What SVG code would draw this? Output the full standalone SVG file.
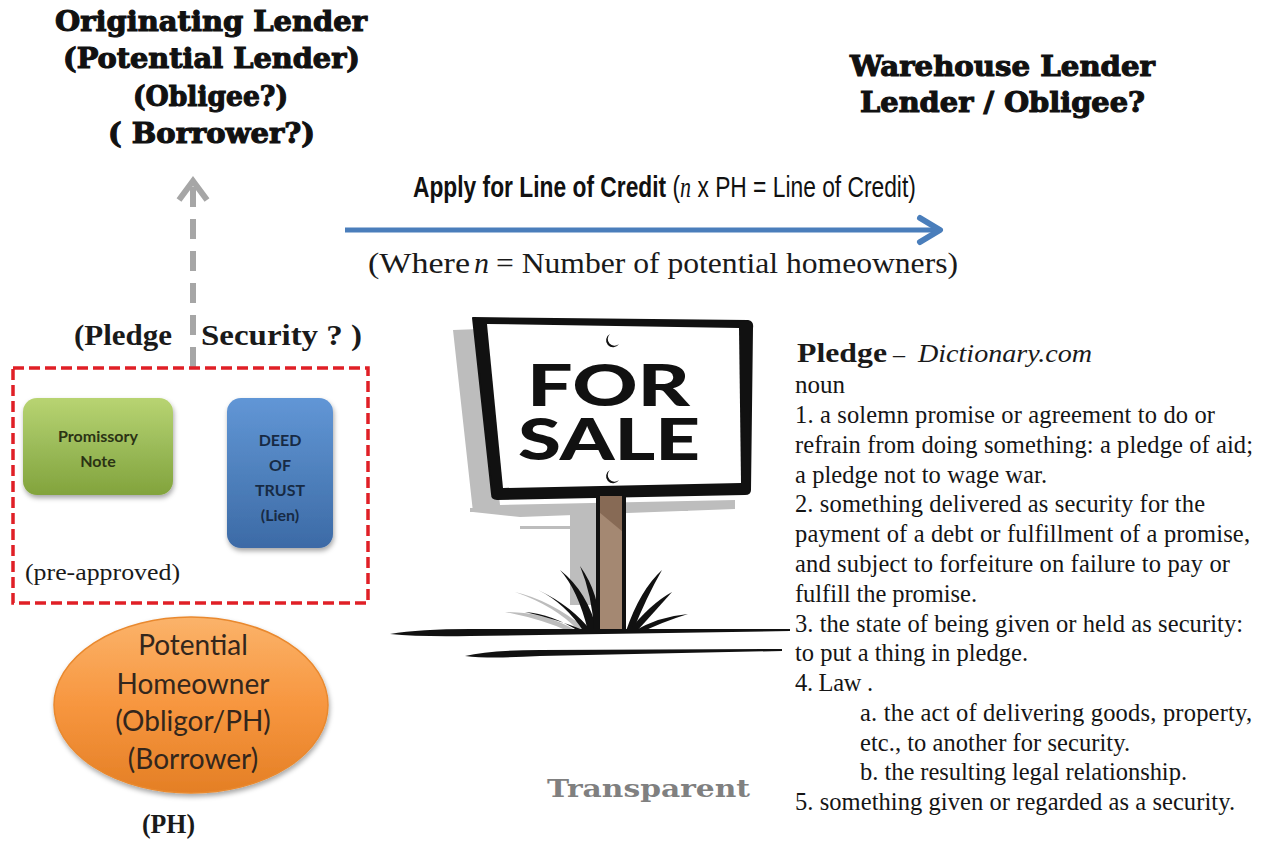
<svg xmlns="http://www.w3.org/2000/svg" width="1266" height="841" viewBox="0 0 1266 841">
  <style>
    .stencil { font-family: "DejaVu Serif", "Liberation Serif", serif; font-weight: bold; font-size: 27px; fill: #111; stroke: #111; stroke-width: 1.1; }
    .times { font-family: "Liberation Serif", "Times New Roman", serif; fill: #1a1a1a; }
    .def { font-family: "Liberation Serif", "Times New Roman", serif; font-size: 24.5px; fill: #151515; }
    .narrow { font-family: "Liberation Sans", Arial, sans-serif; fill: #111; }
    .box { font-family: Lato, "Open Sans", sans-serif; font-weight: bold; font-size: 16px; text-anchor: middle; }
    .oval { font-family: Lato, "Open Sans", sans-serif; font-size: 28px; fill: #33261c; text-anchor: middle; }
    .sign { font-family: Lato, "Open Sans", sans-serif; font-weight: 900; font-size: 57px; fill: #111; }
  </style>
  <defs>
    <linearGradient id="gGreen" x1="0" y1="0" x2="0" y2="1">
      <stop offset="0" stop-color="#b8d472"/>
      <stop offset="0.5" stop-color="#9bbb59"/>
      <stop offset="1" stop-color="#82a33c"/>
    </linearGradient>
    <linearGradient id="gBlue" x1="0" y1="0" x2="0" y2="1">
      <stop offset="0" stop-color="#6196d6"/>
      <stop offset="0.5" stop-color="#4f81bd"/>
      <stop offset="1" stop-color="#3c6aa6"/>
    </linearGradient>
    <linearGradient id="gOrange" x1="0" y1="0" x2="0" y2="1">
      <stop offset="0" stop-color="#fbb36a"/>
      <stop offset="0.5" stop-color="#f7963f"/>
      <stop offset="1" stop-color="#e47f25"/>
    </linearGradient>
    <filter id="soft" x="-20%" y="-20%" width="140%" height="140%">
      <feDropShadow dx="1" dy="3" stdDeviation="2.5" flood-color="#000" flood-opacity="0.35"/>
    </filter>
  </defs>

  <!-- headings -->
  <g id="originating-lender">
    <text class="stencil" x="55" y="31" textLength="312" lengthAdjust="spacingAndGlyphs">Originating Lender</text>
    <text class="stencil" x="63" y="68" textLength="297" lengthAdjust="spacingAndGlyphs">(Potential Lender)</text>
    <text class="stencil" x="133" y="106" textLength="155" lengthAdjust="spacingAndGlyphs">(Obligee?)</text>
    <text class="stencil" x="108" y="143" textLength="207" lengthAdjust="spacingAndGlyphs">( Borrower?)</text>
  </g>
  <g id="warehouse-lender">
    <text class="stencil" x="850" y="76" textLength="305" lengthAdjust="spacingAndGlyphs">Warehouse Lender</text>
    <text class="stencil" x="860" y="112" textLength="285" lengthAdjust="spacingAndGlyphs">Lender / Obligee?</text>
  </g>

  <!-- connectors -->
  <g id="connectors" fill="none" stroke-linecap="butt">
    <!-- pledge arrow up to the originating lender -->
    <line x1="193" y1="367" x2="193" y2="184" stroke="#a6a6a6" stroke-width="6" stroke-dasharray="20 12"/>
    <polyline points="179,200 193,181 207,200" stroke="#a6a6a6" stroke-width="6" stroke-linejoin="miter"/>
    <!-- line of credit application -->
    <line x1="345" y1="230" x2="938" y2="230" stroke="#4a7ebb" stroke-width="5"/>
    <polyline points="920,218 940,230 920,242" stroke="#4a7ebb" stroke-width="6" stroke-linejoin="round" stroke-linecap="round"/>
  </g>

  <!-- line of credit labels -->
  <g id="credit-label">
    <text class="narrow" font-size="30" transform="translate(413,197) scale(0.76,1)"><tspan font-weight="bold">Apply for Line of Credit</tspan> (<tspan font-family="'Liberation Serif', serif" font-style="italic" font-size="29">n</tspan> x PH = Line of Credit)</text>
    <text class="times" x="368" y="273" font-size="30" textLength="102" lengthAdjust="spacingAndGlyphs">(Where</text>
    <text class="times" x="474" y="273" font-size="30" font-style="italic">n</text>
    <text class="times" x="496" y="273" font-size="30" textLength="462" lengthAdjust="spacingAndGlyphs">= Number of potential homeowners)</text>
  </g>

  <!-- pledge / security label -->
  <g id="pledge-label">
    <text class="times" x="74" y="345" font-size="30" font-weight="bold" textLength="98" lengthAdjust="spacingAndGlyphs">(Pledge</text>
    <text class="times" x="201" y="345" font-size="30" font-weight="bold" textLength="161" lengthAdjust="spacingAndGlyphs">Security ? )</text>
  </g>

  <!-- pre-approved documents -->
  <g id="pre-approved">
    <rect x="13" y="368" width="355" height="235" fill="none" stroke="#e01f26" stroke-width="3.5" stroke-dasharray="11 5"/>
    <text class="times" x="25" y="580" font-size="24" textLength="155" lengthAdjust="spacingAndGlyphs">(pre-approved)</text>
  </g>
  <g id="promissory-note">
    <rect x="23" y="398" width="150" height="97" rx="14" fill="url(#gGreen)" filter="url(#soft)"/>
    <text class="box" x="98" y="442" fill="#2b3314">Promissory</text>
    <text class="box" x="98" y="467" fill="#2b3314">Note</text>
  </g>
  <g id="deed-of-trust">
    <rect x="227" y="398" width="106" height="150" rx="14" fill="url(#gBlue)" filter="url(#soft)"/>
    <text class="box" x="280" y="446" fill="#172a44">DEED</text>
    <text class="box" x="280" y="471" fill="#172a44">OF</text>
    <text class="box" x="280" y="496" fill="#172a44">TRUST</text>
    <text class="box" x="280" y="521" fill="#172a44">(Lien)</text>
  </g>

  <!-- potential homeowner -->
  <g id="potential-homeowner">
    <ellipse cx="191" cy="705" rx="137" ry="88" fill="url(#gOrange)" stroke="#e9892f" stroke-width="1.5" filter="url(#soft)"/>
    <text class="oval" x="193" y="655">Potential</text>
    <text class="oval" x="193" y="694">Homeowner</text>
    <text class="oval" x="193" y="731">(Obligor/PH)</text>
    <text class="oval" x="193" y="769">(Borrower)</text>
    <text class="times" x="142" y="833" font-size="28" font-weight="bold" textLength="53" lengthAdjust="spacingAndGlyphs">(PH)</text>
  </g>

  <!-- for-sale sign -->
  <g id="for-sale-sign">
    <!-- shadow -->
    <g fill="#bdbdbd">
      <polygon points="453,330 480,329 500,505 735,500 735,509 520,517 473,512"/>
      <rect x="570" y="505" width="28" height="100"/>
      <rect x="470" y="508" width="125" height="4"/>
      <rect x="520" y="526" width="80" height="3"/>
      <rect x="628" y="508" width="60" height="3"/>
      <path d="M585,628 Q550,600 515,592 Q555,606 578,630 Z"/>
      <path d="M575,630 Q545,612 505,612 Q545,620 570,632 Z"/>
    </g>
    <!-- board -->
    <path d="M473,318 L748,321 Q753,322 752,328 L750,490 Q750,494 745,494 L497,499 Q492,499 492,494 Z" fill="#111" stroke="#111" stroke-width="2" stroke-linejoin="round"/>
    <polygon points="487,324 739,328 741,483 503,488" fill="#fff"/>
    <text class="sign"><tspan x="527" y="406" textLength="163" lengthAdjust="spacingAndGlyphs">FOR</tspan><tspan x="518" y="460" textLength="182" lengthAdjust="spacingAndGlyphs">SALE</tspan></text>
    <path d="M610,334 A7,7 0 1,0 619,344 A5.5,5.5 0 1,1 610,334 Z" fill="#111"/>
    <path d="M610,470 A7,7 0 1,0 619,480 A5.5,5.5 0 1,1 610,470 Z" fill="#111"/>
    <!-- post -->
    <rect x="599" y="496" width="24" height="136" fill="#a48872"/>
    <polygon points="599,496 623,496 623,532 599,512" fill="#876a55"/>
    <line x1="598" y1="496" x2="598" y2="632" stroke="#111" stroke-width="4"/>
    <line x1="624" y1="496" x2="624" y2="632" stroke="#111" stroke-width="4"/>
    <!-- grass -->
    <g fill="#111">
      <path d="M588,631 Q578,590 560,570 Q588,592 597,631 Z"/>
      <path d="M584,632 Q565,603 538,590 Q572,606 592,632 Z"/>
      <path d="M580,632 Q552,614 525,612 Q560,620 588,632 Z"/>
      <path d="M594,630 Q592,595 580,566 Q600,594 600,630 Z"/>
      <path d="M626,631 Q640,590 662,570 Q646,598 633,631 Z"/>
      <path d="M628,632 Q650,604 672,592 Q656,610 636,632 Z"/>
      <path d="M632,632 Q660,616 688,614 Q662,622 640,633 Z"/>
    </g>
    <!-- ground -->
    <path d="M390,634 Q420,629 470,629 L790,629 L790,631 L470,636 Q420,637 390,634 Z" fill="#111"/>
    <path d="M465,656 Q490,650 540,650 L782,649 L782,651 L540,656 Q490,659 465,656 Z" fill="#111"/>
  </g>

  <text x="547" y="797" font-family="'DejaVu Serif', 'Liberation Serif', serif" font-weight="bold" font-size="24" fill="#808080" textLength="203" lengthAdjust="spacingAndGlyphs">Transparent</text>

  <!-- dictionary definition -->
  <g id="pledge-definition">
    <text class="times" x="797" y="362" font-size="28" font-weight="bold" textLength="90" lengthAdjust="spacingAndGlyphs">Pledge</text>
    <text class="times" x="893" y="362" font-size="24">–</text>
    <text class="times" x="918" y="362" font-size="25" font-style="italic" textLength="174" lengthAdjust="spacingAndGlyphs">Dictionary.com</text>
    <text class="def" x="795" y="393" textLength="50" lengthAdjust="spacingAndGlyphs">noun</text>
    <text class="def" x="795" y="423" textLength="420" lengthAdjust="spacing">1. a solemn promise or agreement  to do or</text>
    <text class="def" x="795" y="453" textLength="458" lengthAdjust="spacing">refrain from doing something:  a pledge of aid;</text>
    <text class="def" x="795" y="483" textLength="252" lengthAdjust="spacing">a pledge not to wage war.</text>
    <text class="def" x="795" y="512" textLength="410" lengthAdjust="spacing">2. something  delivered  as security for the</text>
    <text class="def" x="795" y="542" textLength="455" lengthAdjust="spacing">payment of a debt or fulfillment  of a promise,</text>
    <text class="def" x="795" y="572" textLength="435" lengthAdjust="spacing">and subject to forfeiture  on failure  to pay or</text>
    <text class="def" x="795" y="602" textLength="182" lengthAdjust="spacing">fulfill  the promise.</text>
    <text class="def" x="795" y="632" textLength="448" lengthAdjust="spacing">3. the state of being given  or held as security:</text>
    <text class="def" x="795" y="661" textLength="233" lengthAdjust="spacing">to put a thing in pledge.</text>
    <text class="def" x="795" y="691" textLength="78" lengthAdjust="spacing">4. Law .</text>
    <text class="def" x="860" y="721" textLength="392" lengthAdjust="spacing">a. the act of delivering  goods, property,</text>
    <text class="def" x="860" y="751" textLength="270" lengthAdjust="spacing">etc., to another for security.</text>
    <text class="def" x="860" y="780" textLength="327" lengthAdjust="spacing">b. the resulting  legal  relationship.</text>
    <text class="def" x="795" y="810" textLength="440" lengthAdjust="spacing">5. something given  or regarded as a security.</text>
  </g>
</svg>
